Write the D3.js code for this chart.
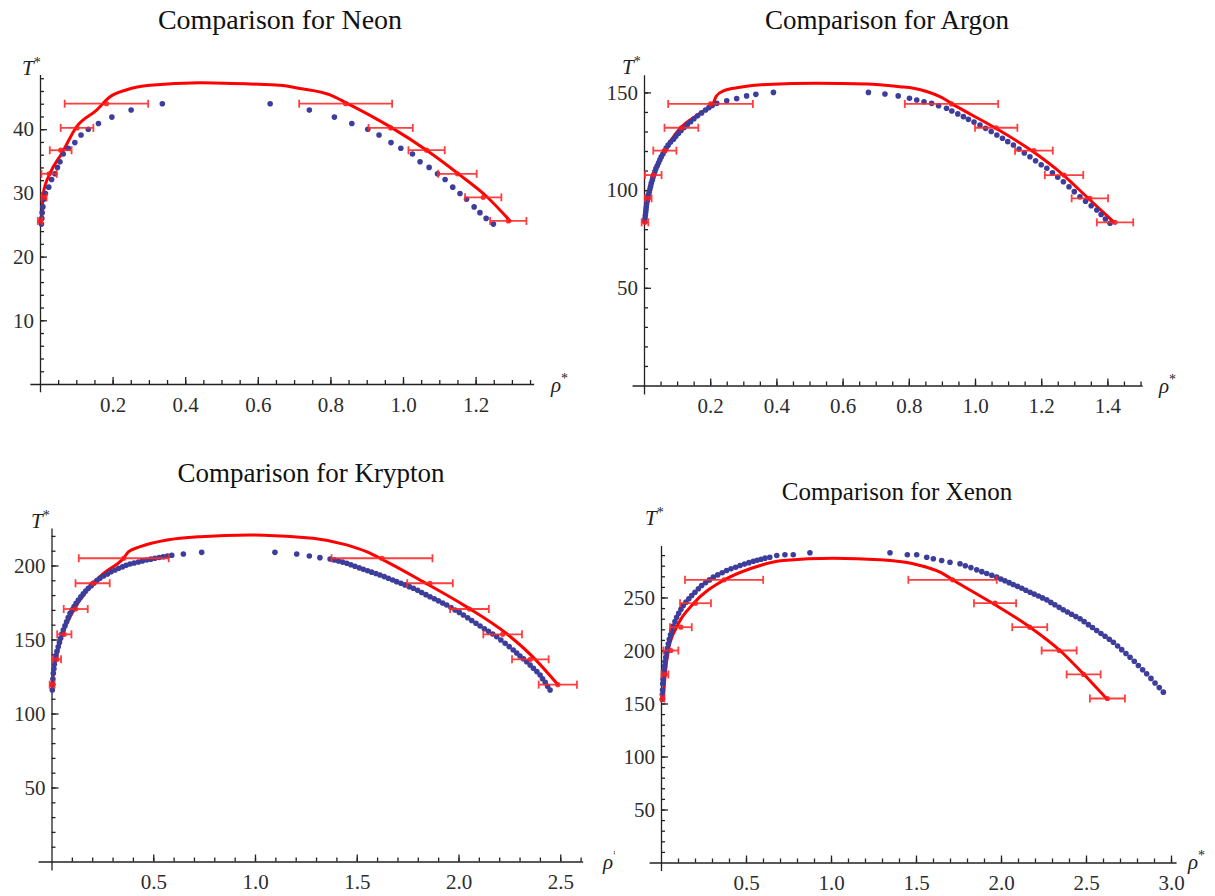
<!DOCTYPE html>
<html>
<head>
<meta charset="utf-8">
<script src="https://cdnjs.cloudflare.com/ajax/libs/d3/7.8.5/d3.min.js"></script>
<style>
  body { margin: 0; background: #fff; }
  svg { display: block; }
  .tick text { font-family: "Liberation Serif", "DejaVu Serif", serif; font-size: 21px; fill: #2d2d2d; }
  .domain, .tick line { stroke: #222; stroke-width: 1.3; }
  .title { font-family: "Liberation Serif", serif; fill: #111; }
  .axlab { font-family: "Liberation Serif", serif; font-size: 21px; font-style: italic; fill: #222; }
</style>
</head>
<body>
<svg id="chart" width="1215" height="896"></svg>
<script>
// ---------------- Neon ----------------
const neonDotT      = [25.1, 26.0, 26.9, 27.8, 29.0, 29.9, 30.9, 32.1, 33.0, 34.0, 34.9, 36.1, 37.0, 37.9, 39.1, 40.0, 40.9, 41.9, 43.0, 44.0];
const neonVapRho    = [0.004, 0.005, 0.006, 0.008, 0.011, 0.015, 0.024, 0.032, 0.041, 0.048, 0.055, 0.064, 0.078, 0.096, 0.113, 0.133, 0.161, 0.198, 0.251, 0.337];
const neonLiqRho    = [1.249, 1.229, 1.212, 1.196, 1.175, 1.157, 1.137, 1.116, 1.095, 1.072, 1.047, 1.026, 0.994, 0.967, 0.934, 0.903, 0.859, 0.811, 0.742, 0.634];
const neonLineRho   = [0.000, 0.005, 0.009, 0.028, 0.060, 0.101, 0.156, 0.193, 0.239, 0.303, 0.441, 0.579, 0.661, 0.716, 0.799, 0.845, 0.964, 1.065, 1.157, 1.231, 1.295];
const neonLineT     = [25.5, 26.3, 29.9, 33.1, 36.2, 40.4, 43.0, 45.1, 46.2, 46.9, 47.3, 47.1, 46.9, 46.4, 45.4, 44.1, 40.4, 36.7, 32.8, 29.4, 25.6];
const neonErrT      = [44.0, 40.2, 36.7, 33.0, 29.3, 25.6];
const neonErrVapRho = [0.183, 0.102, 0.057, 0.025, 0.011, 0.000];
const neonErrVapHw  = [0.115, 0.045, 0.030, 0.021, 0.007, 0.006];
const neonErrLiqRho = [0.842, 0.966, 1.065, 1.150, 1.221, 1.290];
const neonErrLiqHw  = [0.128, 0.061, 0.050, 0.053, 0.050, 0.050];
const neonXTicks = [0.2, 0.4, 0.6, 0.8, 1.0, 1.2];
const neonYTicks = [10, 20, 30, 40];

// ---------------- Argon ----------------
const argonVapT   = [84, 85.5, 87, 88.5, 90, 91.5, 93, 94.5, 96, 97.5, 99, 100.5, 102, 103.5, 105, 106.5, 108, 109.5, 111, 112.5, 114, 115.5, 117, 118.5, 120, 121.5, 123, 124.5, 126, 127.5, 129, 130.5, 132, 133.5, 135, 136.5, 138, 139.5, 141, 142.2, 143.3, 144.4, 145.7, 146.8, 148.2, 149.0, 150.0];
const argonVapRho = [0.002, 0.003, 0.004, 0.005, 0.006, 0.007, 0.008, 0.010, 0.011, 0.013, 0.016, 0.018, 0.020, 0.022, 0.025, 0.027, 0.030, 0.033, 0.036, 0.040, 0.044, 0.048, 0.052, 0.057, 0.062, 0.067, 0.073, 0.080, 0.089, 0.096, 0.104, 0.112, 0.121, 0.131, 0.141, 0.151, 0.162, 0.174, 0.186, 0.196, 0.206, 0.220, 0.250, 0.280, 0.310, 0.338, 0.391];
const argonLiqT   = [150.0, 149.2, 148.2, 147.0, 146.1, 145.2, 144.4, 143.2, 141.9, 140.5, 139, 137.6, 136.2, 134.8, 133.3, 131.6, 130, 128.2, 126.5, 124.8, 123.1, 121, 119, 117.1, 115, 113, 111.2, 108.9, 106.6, 104.3, 101.7, 99.2, 96.6, 94.3, 92, 89.8, 87.5, 85.2, 83.0];
const argonLiqRho = [0.678, 0.728, 0.768, 0.802, 0.824, 0.846, 0.869, 0.890, 0.914, 0.930, 0.948, 0.965, 0.980, 0.997, 1.015, 1.032, 1.049, 1.066, 1.083, 1.099, 1.116, 1.133, 1.149, 1.166, 1.183, 1.200, 1.217, 1.234, 1.250, 1.267, 1.284, 1.300, 1.317, 1.334, 1.351, 1.368, 1.381, 1.394, 1.408];
const argonLineRho = [0.003, 0.008, 0.018, 0.033, 0.058, 0.109, 0.169, 0.209, 0.218, 0.240, 0.290, 0.371, 0.522, 0.673, 0.773, 0.814, 0.894, 0.945, 1.055, 1.176, 1.267, 1.337, 1.418];
const argonLineT   = [83.8, 94.9, 101.7, 110.3, 118.8, 131.6, 139.3, 144.4, 148.0, 150.8, 152.6, 154.1, 154.7, 154.3, 152.9, 152.1, 147.8, 142.7, 132.4, 119.6, 107.7, 96.6, 83.8];
const argonErrT      = [144.1, 131.9, 120.2, 107.7, 95.8, 83.5];
const argonErrVapRho = [0.201, 0.113, 0.063, 0.028, 0.013, 0.003];
const argonErrVapHw  = [0.128, 0.051, 0.035, 0.025, 0.010, 0.010];
const argonErrLiqRho = [0.929, 1.064, 1.178, 1.269, 1.347, 1.423];
const argonErrLiqHw  = [0.141, 0.064, 0.057, 0.058, 0.055, 0.055];
const argonXTicks = [0.2, 0.4, 0.6, 0.8, 1.0, 1.2, 1.4];
const argonYTicks = [50, 100, 150];

// ---------------- Krypton ----------------
const kryptonVapT   = [115.9, 119.5, 123.3, 127.2, 130.2, 133.2, 136.1, 139.1, 142.1, 145.1, 147.9, 150.8, 153.6, 156.4, 159.2, 162.0, 164.9, 167.7, 170.0, 172.3, 174.5, 176.7, 178.8, 180.8, 182.7, 184.6, 186.4, 188.1, 189.8, 191.4, 192.9, 194.3, 195.7, 197.0, 198.1, 199.1, 200.1, 201.0, 201.7, 202.4, 203.1, 203.7, 204.3, 204.9, 205.4, 205.9, 206.4, 206.9, 207.8, 208.9];
const kryptonVapRho = [0.004, 0.005, 0.007, 0.009, 0.012, 0.014, 0.017, 0.022, 0.027, 0.033, 0.039, 0.045, 0.051, 0.058, 0.066, 0.074, 0.082, 0.091, 0.101, 0.111, 0.121, 0.132, 0.144, 0.156, 0.168, 0.181, 0.195, 0.209, 0.223, 0.238, 0.256, 0.275, 0.293, 0.312, 0.330, 0.349, 0.367, 0.386, 0.406, 0.427, 0.447, 0.468, 0.488, 0.508, 0.529, 0.549, 0.570, 0.591, 0.648, 0.738];
const kryptonLiqT   = [208.9, 207.8, 206.4, 205.3, 204.4, 203.8, 203.0, 202.3, 201.5, 200.5, 199.5, 198.4, 197.4, 196.5, 195.5, 194.6, 193.6, 192.5, 191.4, 190.2, 189.1, 188.0, 186.9, 185.7, 184.6, 183.2, 181.8, 180.3, 178.9, 177.5, 176.1, 174.7, 173.3, 171.6, 169.9, 168.3, 166.6, 164.7, 162.8, 161.0, 159.1, 157.3, 155.5, 153.7, 151.9, 149.7, 147.4, 145.2, 142.9, 140.9, 138.9, 137.0, 135.0, 132.8, 130.5, 128.3, 126.0, 123.5, 121.0, 118.4, 115.9];
const kryptonLiqRho = [1.098, 1.205, 1.267, 1.319, 1.369, 1.390, 1.410, 1.430, 1.451, 1.471, 1.491, 1.512, 1.532, 1.553, 1.573, 1.594, 1.614, 1.635, 1.655, 1.676, 1.696, 1.717, 1.737, 1.758, 1.778, 1.799, 1.819, 1.840, 1.860, 1.881, 1.901, 1.922, 1.942, 1.963, 1.983, 2.004, 2.024, 2.045, 2.065, 2.086, 2.106, 2.127, 2.147, 2.168, 2.188, 2.208, 2.229, 2.249, 2.269, 2.286, 2.302, 2.319, 2.335, 2.352, 2.368, 2.385, 2.401, 2.413, 2.426, 2.438, 2.450];
const kryptonLineRho = [0.003, 0.011, 0.028, 0.052, 0.101, 0.175, 0.256, 0.354, 0.379, 0.436, 0.567, 0.730, 0.975, 1.221, 1.286, 1.450, 1.548, 1.646, 1.825, 2.038, 2.234, 2.364, 2.487];
const kryptonLineT   = [119.3, 129.4, 140.7, 153.0, 167.7, 183.4, 194.7, 204.9, 209.3, 212.7, 217.2, 219.5, 220.6, 219.1, 218.4, 213.9, 209.3, 202.6, 189.1, 172.2, 154.2, 138.4, 119.7];
const kryptonErrT      = [204.9, 188.0, 170.6, 153.5, 136.6, 119.5];
const kryptonErrVapRho = [0.355, 0.202, 0.119, 0.063, 0.027, 0.003];
const kryptonErrVapHw  = [0.221, 0.084, 0.059, 0.035, 0.020, 0.012];
const kryptonErrLiqRho = [1.624, 1.860, 2.054, 2.217, 2.353, 2.488];
const kryptonErrLiqHw  = [0.248, 0.112, 0.095, 0.095, 0.090, 0.094];
const kryptonXTicks = [0.5, 1.0, 1.5, 2.0, 2.5];
const kryptonYTicks = [50, 100, 150, 200];

// ---------------- Xenon ----------------
const xenonVapT   = [154.0, 158.5, 162.8, 168.6, 172.8, 177.0, 181.1, 185.3, 189.5, 193.7, 197.9, 202.1, 206.3, 210.5, 214.7, 218.9, 223.1, 227.3, 231.4, 235.1, 238.8, 242.5, 245.6, 248.8, 251.9, 255.0, 258.2, 261.3, 263.9, 266.6, 269.2, 271.3, 273.4, 275.5, 277.1, 278.6, 280.2, 281.5, 282.9, 284.2, 285.2, 286.1, 287.1, 288.0, 289.6, 290.3, 290.3, 292.2];
const xenonVapRho = [0.007, 0.008, 0.009, 0.010, 0.012, 0.015, 0.018, 0.021, 0.024, 0.028, 0.033, 0.038, 0.043, 0.049, 0.056, 0.063, 0.072, 0.082, 0.092, 0.104, 0.117, 0.131, 0.147, 0.164, 0.181, 0.200, 0.220, 0.239, 0.262, 0.285, 0.308, 0.334, 0.360, 0.386, 0.412, 0.439, 0.465, 0.491, 0.517, 0.543, 0.566, 0.589, 0.612, 0.640, 0.681, 0.729, 0.778, 0.876];
const xenonLiqT   = [292.2, 290.3, 290.3, 288.0, 286.5, 284.9, 283.3, 281.8, 280.0, 278.2, 276.1, 274.4, 272.7, 271.0, 269.2, 267.5, 265.8, 264.0, 262.3, 260.5, 258.7, 256.8, 255.0, 253.2, 251.4, 249.6, 247.8, 245.4, 243.1, 240.7, 238.4, 236.3, 234.2, 232.0, 229.9, 227.2, 224.4, 221.7, 218.9, 216.1, 213.4, 210.6, 207.8, 204.3, 200.8, 197.2, 193.7, 189.8, 185.8, 181.9, 178.0, 173.7, 169.3, 165.0, 160.7];
const xenonLiqRho = [1.347, 1.449, 1.504, 1.563, 1.602, 1.651, 1.700, 1.759, 1.790, 1.823, 1.857, 1.887, 1.916, 1.946, 1.975, 1.999, 2.023, 2.048, 2.072, 2.097, 2.122, 2.146, 2.171, 2.195, 2.220, 2.244, 2.269, 2.293, 2.317, 2.342, 2.366, 2.391, 2.415, 2.440, 2.465, 2.489, 2.514, 2.538, 2.563, 2.588, 2.612, 2.637, 2.661, 2.686, 2.710, 2.735, 2.759, 2.784, 2.808, 2.833, 2.857, 2.882, 2.906, 2.931, 2.955];
const xenonLineRho = [0.014, 0.024, 0.043, 0.092, 0.190, 0.366, 0.524, 0.719, 1.014, 1.288, 1.484, 1.641, 1.739, 1.955, 2.171, 2.347, 2.484, 2.622];
const xenonLineT   = [154.4, 176.4, 200.0, 222.0, 244.1, 266.0, 277.1, 284.9, 287.1, 285.6, 281.8, 273.9, 264.4, 244.1, 222.0, 200.0, 178.0, 154.4];
const xenonErrT      = [266.7, 244.6, 222.0, 200.0, 177.4, 154.7];
const xenonErrVapRho = [0.371, 0.203, 0.117, 0.058, 0.023, 0.010];
const xenonErrVapHw  = [0.230, 0.091, 0.064, 0.044, 0.020, 0.010];
const xenonErrLiqRho = [1.715, 1.965, 2.169, 2.342, 2.486, 2.626];
const xenonErrLiqHw  = [0.260, 0.124, 0.103, 0.103, 0.100, 0.103];
const xenonXTicks = [0.5, 1.0, 1.5, 2.0, 2.5, 3.0];
const xenonYTicks = [50, 100, 150, 200, 250];

// panel layout (pixel placement of each Mathematica plot)
const panels = [
  { title: "Comparison for Neon", tx: 280, ty: 29, tSize: 28, x0: 40, kx: 363, y0: 384, ky: 6.37,
    xMin: -0.028, xMax: 1.36, yMin: -1.2, yMax: 48.6, xStep: 0.05, yStep: 2,
    xTicks: neonXTicks, yTicks: neonYTicks, tLab: [22, 75], rLab: [551, 392],
    dots: [[neonVapRho, neonDotT], [neonLiqRho, neonDotT]], line: [neonLineRho, neonLineT],
    err: [[neonErrVapRho, neonErrVapHw, neonErrT], [neonErrLiqRho, neonErrLiqHw, neonErrT]] },
  { title: "Comparison for Argon", tx: 887, ty: 29, tSize: 27, x0: 644, kx: 331, y0: 385.5, ky: 1.954,
    xMin: -0.036, xMax: 1.505, yMin: -4.3, yMax: 159, xStep: 0.05, yStep: 10,
    xTicks: argonXTicks, yTicks: argonYTicks, tLab: [622, 74], rLab: [1159, 393],
    dots: [[argonVapRho, argonVapT], [argonLiqRho, argonLiqT]], line: [argonLineRho, argonLineT],
    err: [[argonErrVapRho, argonErrVapHw, argonErrT], [argonErrLiqRho, argonErrLiqHw, argonErrT]] },
  { title: "Comparison for Krypton", tx: 311, ty: 482, tSize: 27, x0: 51.5, kx: 203.5, y0: 861.5, ky: 1.48,
    xMin: -0.066, xMax: 2.61, yMin: -5.7, yMax: 225.3, xStep: 0.1, yStep: 10,
    xTicks: kryptonXTicks, yTicks: kryptonYTicks, tLab: [31, 528], rLab: [603, 869], clipRight: 615,
    dots: [[kryptonVapRho, kryptonVapT], [kryptonLiqRho, kryptonLiqT]], line: [kryptonLineRho, kryptonLineT],
    err: [[kryptonErrVapRho, kryptonErrVapHw, kryptonErrT], [kryptonErrLiqRho, kryptonErrLiqHw, kryptonErrT]] },
  { title: "Comparison for Xenon", tx: 897, ty: 500, tSize: 25, x0: 661, kx: 170, y0: 862.5, ky: 1.06,
    xMin: -0.07, xMax: 3.03, yMin: -7.5, yMax: 299, xStep: 0.1, yStep: 10,
    xTicks: xenonXTicks, yTicks: xenonYTicks, tLab: [645, 525], rLab: [1188, 869],
    dots: [[xenonVapRho, xenonVapT], [xenonLiqRho, xenonLiqT]], line: [xenonLineRho, xenonLineT],
    err: [[xenonErrVapRho, xenonErrVapHw, xenonErrT], [xenonErrLiqRho, xenonErrLiqHw, xenonErrT]] }
];

const svg = d3.select("#chart");
svg.append("rect").attr("width", 1215).attr("height", 896).attr("fill", "#fff");

const fmt = d3.format(".1f");

function drawPanel(p, idx) {
  const x = d3.scaleLinear().domain([p.xMin, p.xMax])
    .range([p.x0 + p.xMin * p.kx, p.x0 + p.xMax * p.kx]);
  const y = d3.scaleLinear().domain([p.yMin, p.yMax])
    .range([p.y0 - p.yMin * p.ky, p.y0 - p.yMax * p.ky]);
  const g = svg.append("g");

  g.append("text").attr("class", "title").attr("font-size", p.tSize)
    .attr("x", p.tx).attr("y", p.ty).attr("text-anchor", "middle").text(p.title);

  // minor ticks (no labels)
  const xMinor = d3.range(p.xStep, p.xMax, p.xStep);
  const yMinor = d3.range(p.yStep, p.yMax, p.yStep);
  g.append("g").attr("transform", `translate(0,${y(0)})`)
    .call(d3.axisBottom(x).tickValues(xMinor).tickSize(-4).tickFormat(""))
    .call(s => s.select(".domain").remove());
  g.append("g").attr("transform", `translate(${x(0)},0)`)
    .call(d3.axisLeft(y).tickValues(yMinor).tickSize(-4).tickFormat(""))
    .call(s => s.select(".domain").remove());

  // major ticks + axis lines
  g.append("g").attr("transform", `translate(0,${y(0)})`)
    .call(d3.axisBottom(x).tickValues(p.xTicks).tickSize(-7).tickSizeOuter(0)
      .tickPadding(13).tickFormat(fmt));
  g.append("g").attr("transform", `translate(${x(0)},0)`)
    .call(d3.axisLeft(y).tickValues(p.yTicks).tickSize(-7).tickSizeOuter(0).tickPadding(6));

  // axis labels
  const tl = g.append("text").attr("class", "axlab").attr("x", p.tLab[0]).attr("y", p.tLab[1]);
  tl.append("tspan").text("T");
  tl.append("tspan").attr("dy", -8).attr("font-size", 14).attr("font-style", "normal").text("*");

  let rg = g;
  if (p.clipRight) {
    svg.append("clipPath").attr("id", "clip" + idx)
      .append("rect").attr("x", 0).attr("y", 0).attr("width", p.clipRight).attr("height", 896);
    rg = g.append("g").attr("clip-path", `url(#clip${idx})`);
  }
  const rl = rg.append("text").attr("class", "axlab").attr("x", p.rLab[0]).attr("y", p.rLab[1]);
  rl.append("tspan").text("ρ");
  rl.append("tspan").attr("dy", -9).attr("font-size", 14).attr("font-style", "normal").text("*");

  // theory curve
  const linePts = p.line[0].map((r, i) => [r, p.line[1][i]]);
  g.append("path").datum(linePts)
    .attr("fill", "none").attr("stroke", "#ff0000").attr("stroke-width", 3)
    .attr("stroke-linejoin", "round").attr("stroke-linecap", "round")
    .attr("d", d3.line().curve(d3.curveMonotoneX).x(d => x(d[0])).y(d => y(d[1])));

  // simulation points
  const dotPts = p.dots.flatMap(([rs, ts]) => rs.map((r, i) => [r, ts[i]]));
  g.append("g").selectAll("circle").data(dotPts).join("circle")
    .attr("cx", d => x(d[0])).attr("cy", d => y(d[1])).attr("r", 2.8)
    .attr("fill", "#3d3d9b");

  // error bars
  const errPts = p.err.flatMap(([cs, hs, ts]) => cs.map((c, i) => ({ c: c, h: hs[i], t: ts[i] })));
  const eb = g.append("g").attr("stroke", "#ff2b2b").attr("stroke-width", 1.8).attr("opacity", 0.9);
  const bar = eb.selectAll("g").data(errPts).join("g");
  bar.append("line")
    .attr("x1", d => x(d.c - d.h)).attr("x2", d => x(d.c + d.h))
    .attr("y1", d => y(d.t)).attr("y2", d => y(d.t));
  bar.append("line")
    .attr("x1", d => x(d.c - d.h)).attr("x2", d => x(d.c - d.h))
    .attr("y1", d => y(d.t) - 4).attr("y2", d => y(d.t) + 4);
  bar.append("line")
    .attr("x1", d => x(d.c + d.h)).attr("x2", d => x(d.c + d.h))
    .attr("y1", d => y(d.t) - 4).attr("y2", d => y(d.t) + 4);
  bar.append("circle")
    .attr("cx", d => x(d.c)).attr("cy", d => y(d.t)).attr("r", 2.6)
    .attr("fill", "#ff1a1a").attr("stroke", "none");
}

panels.forEach(drawPanel);
</script>
</body>
</html>
